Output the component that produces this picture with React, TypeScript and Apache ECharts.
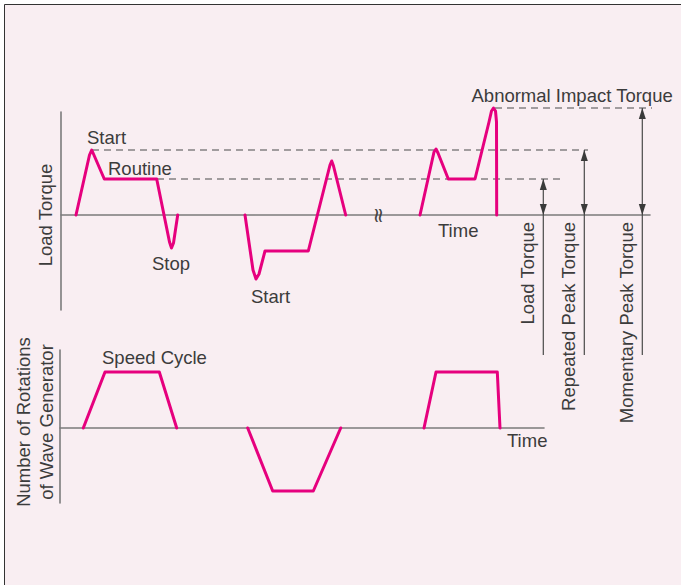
import React, { useEffect, useRef } from "react";
import * as echarts from "echarts";

// ---- Data (time units / torque units; zero = no load) ----
const torqueCycle1 = [[15, 0], [28.5, 60], [30.7, 65], [32.5, 61], [43.3, 36], [95.7, 36], [108.5, -27], [110.5, -33], [112.5, -28], [116.7, 0]];
const torqueCycle2 = [[184, 0], [192, -55], [195, -64], [198, -59], [204, -36], [247.3, -36], [269, 50], [270.7, 54], [272.5, 49], [284.7, 0]];
const torqueCycle3 = [[359, 0], [373, 63], [375, 66], [377, 62], [387.3, 36], [414, 36], [428, 93], [430.5, 104], [432.5, 107], [434.5, 104], [435.5, 93], [435.7, 0]];

const speedCycle1 = [[23.3, 0], [45, 56], [99.3, 56], [116.7, 0]];
const speedCycle2 = [[187.7, 0], [212.7, -63], [253.3, -63], [280.7, 0]];
const speedCycle3 = [[364, 0], [376, 56], [437.3, 56], [440, 0]];

// dashed reference levels: [level, start time, end time]
const guideLevels = [65, 36, 107];
const guideStarts = [31, 96, 434];
const guideEnds = [527, 500.7, 609];

// torque marker arrows
const markerNames = ["Load Torque", "Repeated Peak Torque", "Momentary Peak Torque"];
const markerTimes = [482.3, 523.3, 581.3];
const markerLevels = [36, 65, 107];
const markerBottom = -140;

const MAGENTA = "#e6007e";
const AXIS = "#7b7b7b";
const GUIDE = "#4a4a4a";
const TEXT = "#3c3c3c";
const BG = "#f9eef2";
const FONT = "'Liberation Sans', Arial, Helvetica, sans-serif";
const FS = 18.5;

function pinkLine(data: number[][], axisIndex: number) {
  return {
    type: "line",
    xAxisIndex: axisIndex,
    yAxisIndex: axisIndex,
    data,
    symbol: "none",
    clip: false,
    silent: true,
    z: 5,
    lineStyle: { color: MAGENTA, width: 3, join: "round", cap: "round" },
  };
}

function label(text: string, x: number, y: number, extra: any = {}) {
  return {
    type: "text",
    x,
    y,
    z: 100,
    silent: true,
    ...extra,
    style: {
      text,
      fill: TEXT,
      font: `${FS}px ${FONT}`,
      align: "left",
      verticalAlign: "middle",
      ...(extra.style || {}),
    },
  };
}

export default function App() {
  const ref = useRef<HTMLDivElement>(null);
  useEffect(() => {
    if (!ref.current) return;
    const chart = echarts.init(ref.current, undefined, { renderer: "svg" });

    const hiddenAxis = {
      type: "value",
      axisTick: { show: false },
      axisLabel: { show: false },
      splitLine: { show: false },
      axisLine: { show: true, onZero: true, lineStyle: { color: AXIS, width: 1.6 } },
    };

    const guideSeries = guideLevels.map((lv, i) => ({
      type: "line",
      xAxisIndex: 0,
      yAxisIndex: 0,
      data: [[guideStarts[i], lv], [guideEnds[i], lv]],
      symbol: "none",
      clip: false,
      silent: true,
      z: 3,
      lineStyle: { color: GUIDE, width: 1.2, type: [7, 5] },
    }));

    const markerSeries = markerTimes.map((t, i) => ({
      type: "line",
      name: markerNames[i],
      xAxisIndex: 0,
      yAxisIndex: 0,
      clip: false,
      silent: true,
      showSymbol: true,
      z: 4,
      itemStyle: { color: "#3a3a3a" },
      lineStyle: { color: "#4a4a4a", width: 1.2 },
      data: [
        { value: [t, markerLevels[i]], symbol: "triangle", symbolSize: [7, 11], symbolOffset: [0, "50%"] },
        { value: [t, 0], symbol: "triangle", symbolSize: [7, 11], symbolRotate: 180, symbolOffset: [0, "-50%"] },
        { value: [t, markerBottom], symbol: "none" },
      ],
    }));

    const option: any = {
      animation: false,
      backgroundColor: BG,
      grid: [
        { left: 61, top: 112, width: 589, height: 198 },
        { left: 60, top: 350, width: 484, height: 153 },
      ],
      xAxis: [
        { ...hiddenAxis, gridIndex: 0, min: 0, max: 589 },
        { ...hiddenAxis, gridIndex: 1, min: 0, max: 484 },
      ],
      yAxis: [
        { ...hiddenAxis, gridIndex: 0, min: -95, max: 103 },
        { ...hiddenAxis, gridIndex: 1, min: -75, max: 78 },
      ],
      series: [
        ...guideSeries,
        ...markerSeries,
        pinkLine(torqueCycle1, 0),
        pinkLine(torqueCycle2, 0),
        pinkLine(torqueCycle3, 0),
        pinkLine(speedCycle1, 1),
        pinkLine(speedCycle2, 1),
        pinkLine(speedCycle3, 1),
      ],
      graphic: [
        { type: "rect", shape: { x: 0, y: 0, width: 681, height: 4 }, style: { fill: "#ffffff" }, z: 100, silent: true },
        { type: "rect", shape: { x: 0, y: 0, width: 4, height: 585 }, style: { fill: "#ffffff" }, z: 100, silent: true },
        { type: "line", shape: { x1: 4.5, y1: 4.5, x2: 681, y2: 4.5 }, style: { stroke: "#333333", lineWidth: 1 }, z: 100, silent: true },
        { type: "line", shape: { x1: 4.5, y1: 4.5, x2: 4.5, y2: 585 }, style: { stroke: "#333333", lineWidth: 1 }, z: 100, silent: true },
        label("Start", 87, 137.5),
        label("Routine", 108, 168),
        label("Stop", 152, 263.5),
        label("Start", 251, 296),
        label("Time", 438, 230.5),
        label("Abnormal Impact Torque", 471.5, 95.5),
        label("Speed Cycle", 102, 357),
        label("Time", 507, 440),
        label("Load Torque", 45, 215, { rotation: Math.PI / 2, style: { align: "center" } }),
        label("Number of Rotations", 23.5, 422, { rotation: Math.PI / 2, style: { align: "center" } }),
        label("of Wave Generator", 46.5, 422, { rotation: Math.PI / 2, style: { align: "center" } }),
        label(markerNames[0], 527, 222, { rotation: Math.PI / 2, style: { align: "right" } }),
        label(markerNames[1], 568, 222, { rotation: Math.PI / 2, style: { align: "right" } }),
        label(markerNames[2], 626, 222, { rotation: Math.PI / 2, style: { align: "right" } }),
        label("\u2248", 377.5, 215.5, { rotation: Math.PI / 2, style: { align: "center", font: `21px 'DejaVu Sans', sans-serif`, fill: "#444" } }),
      ],
    };
    chart.setOption(option);
    return () => chart.dispose();
  }, []);

  return (
    <div
      ref={ref}
      style={{ position: "fixed", left: 0, top: 0, width: 681, height: 585 }}
    />
  );
}
